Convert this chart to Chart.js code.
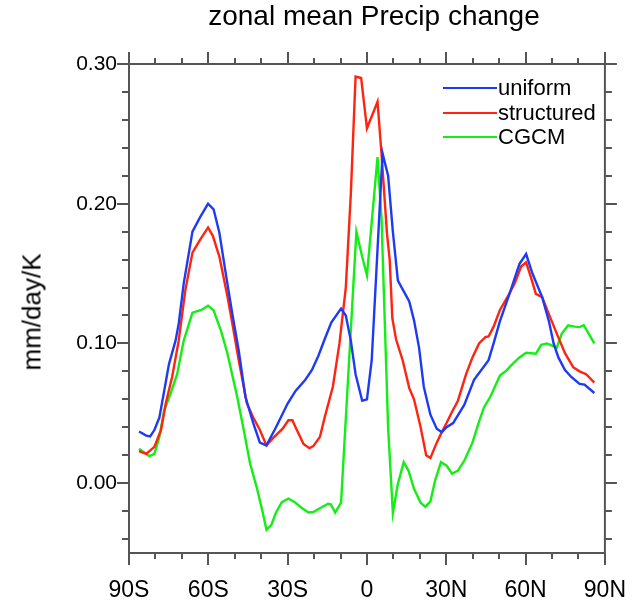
<!DOCTYPE html>
<html>
<head>
<meta charset="utf-8">
<script src="https://cdn.jsdelivr.net/npm/chart.js@4.4.1/dist/chart.umd.min.js"></script>
<style>
    html, body { margin: 0; padding: 0; background: #fff; }
    #wrap { position: relative; width: 642px; height: 608px; font-family: 'Liberation Sans', Arial, sans-serif; color: #000; }
    #plot { position: absolute; left: 0; top: 0; }
    #title { position: absolute; left: 0; width: 748px; top: 0px; text-align: center; font-size: 28px; white-space: nowrap; }
    #ylab { position: absolute; left: 32px; top: 312px; font-size: 26px; white-space: nowrap; transform: translate(-50%, -50%) rotate(-90deg); }
    #legend { position: absolute; left: 443px; top: 76px; font-size: 22px; }
    #legend .row { display: flex; align-items: center; height: 24.5px; }
    #legend .ln { width: 54px; height: 2px; margin-right: 1px; }
</style>
</head>
<body>
<div id="wrap">
    <canvas id="plot" width="642" height="608"></canvas>
    <div id="title">zonal mean Precip change</div>
    <div id="ylab">mm/day/K</div>
    <div id="legend"></div>
</div>
<script>
/* zonal mean Precip change */
(function () {
    'use strict';

    // --- data (latitude in degrees, value in mm/day/K) ---
    const uniformLat = [-86.2, -83.5, -82, -80.4, -78.5, -76.7, -74.9, -72.4, -71.2, -69.3, -66, -63.2, -60.1, -58, -55.8, -53.4, -50.9, -48.5, -46, -43, -40.5, -38, -34.4, -30, -27, -23.3, -20.8, -18.4, -16, -13.5, -9.8, -8, -6.1, -4.3, -1.8, 0, 1.8, 5.9, 8, 9.8, 11.7, 16, 17.8, 19.7, 21.5, 24, 26.4, 28.3, 30.1, 32.6, 36.8, 40.5, 46, 47.9, 50.3, 54, 57.7, 60.2, 62.6, 66.3, 68.8, 70.6, 72.4, 74.9, 77.3, 80.4, 82.3, 86];
    const uniformVal = [0.037, 0.034, 0.0335, 0.038, 0.047, 0.066, 0.085, 0.102, 0.114, 0.143, 0.180, 0.190, 0.200, 0.196, 0.179, 0.150, 0.121, 0.095, 0.062, 0.043, 0.029, 0.027, 0.040, 0.057, 0.066, 0.074, 0.081, 0.091, 0.103, 0.115, 0.125, 0.120, 0.102, 0.078, 0.059, 0.060, 0.088, 0.236, 0.220, 0.180, 0.145, 0.130, 0.1165, 0.097, 0.069, 0.049, 0.039, 0.0365, 0.040, 0.043, 0.056, 0.074, 0.088, 0.100, 0.116, 0.136, 0.157, 0.164, 0.150, 0.133, 0.116, 0.100, 0.090, 0.081, 0.076, 0.071, 0.0705, 0.0645];

    const structuredLat = [-86.2, -83.5, -80.4, -77.9, -76.1, -73.7, -71.2, -68.7, -66, -63.2, -60.1, -58.3, -55.8, -52.7, -50.9, -48.5, -45.4, -43, -40.5, -38, -35.6, -31.9, -29.7, -28.2, -27, -24, -21.8, -20.3, -17.8, -16, -12.9, -10.4, -8, -6.1, -4.3, -2.2, 0, 4, 5.5, 7.6, 8.6, 9.6, 11, 13.5, 16, 17.8, 20.3, 22.4, 24, 26.4, 28.3, 30.1, 31.9, 34.4, 37.5, 39.9, 42.4, 44.8, 46, 47.9, 50.3, 53.4, 55.9, 58.3, 60.2, 62, 63.9, 66.3, 68.8, 71.8, 74.9, 78, 80.4, 82.9, 86];
    const structuredVal = [0.023, 0.021, 0.026, 0.038, 0.057, 0.076, 0.102, 0.138, 0.165, 0.174, 0.183, 0.177, 0.162, 0.133, 0.114, 0.088, 0.057, 0.047, 0.038, 0.027, 0.032, 0.039, 0.045, 0.045, 0.040, 0.028, 0.025, 0.0265, 0.033, 0.047, 0.069, 0.100, 0.140, 0.207, 0.291, 0.290, 0.254, 0.273, 0.236, 0.178, 0.160, 0.118, 0.103, 0.088, 0.068, 0.060, 0.040, 0.020, 0.018, 0.029, 0.0365, 0.043, 0.050, 0.059, 0.078, 0.090, 0.100, 0.1045, 0.105, 0.112, 0.124, 0.134, 0.143, 0.155, 0.158, 0.1475, 0.1355, 0.133, 0.121, 0.107, 0.093, 0.083, 0.080, 0.078, 0.072];

    const cgcmLat = [-86.2, -82.3, -80.4, -78.5, -76.7, -74.3, -71.8, -69.3, -66, -62.6, -60.1, -58, -55.2, -52.8, -49.1, -46.6, -44.2, -41.7, -39.6, -38, -36.2, -34.4, -32.2, -29.7, -27.3, -24.5, -22.1, -20.3, -17.8, -14.7, -13.7, -12, -9.8, -4, -1.8, 0, 4, 5.5, 8, 9.8, 11.7, 13.9, 15.7, 17.8, 20.3, 22.1, 24, 25.8, 28, 30.1, 32.2, 34.4, 36.8, 39.9, 42.4, 44.2, 46.7, 50.3, 52.8, 55.2, 57.7, 60.2, 63.9, 65.9, 68.1, 71.8, 73.7, 76.1, 78.6, 80.4, 82, 86];
    const cgcmVal = [0.0246, 0.0193, 0.021, 0.033, 0.052, 0.064, 0.078, 0.102, 0.122, 0.124, 0.127, 0.1236, 0.109, 0.093, 0.062, 0.038, 0.014, -0.003, -0.0195, -0.0334, -0.030, -0.021, -0.0136, -0.011, -0.0136, -0.018, -0.021, -0.0207, -0.018, -0.0148, -0.0152, -0.021, -0.014, 0.180, 0.162, 0.1487, 0.2334, 0.190, 0.040, -0.0215, -0.0005, 0.015, 0.009, -0.004, -0.014, -0.017, -0.013, 0.002, 0.015, 0.0125, 0.0067, 0.009, 0.016, 0.029, 0.044, 0.054, 0.062, 0.077, 0.0807, 0.0855, 0.090, 0.0933, 0.0926, 0.099, 0.100, 0.097, 0.107, 0.113, 0.112, 0.1117, 0.113, 0.100];

    // --- axes ---
    const xTickValues = [-90, -60, -30, 0, 30, 60, 90];
    const xTickLabels = ['90S', '60S', '30S', '0', '30N', '60N', '90N'];
    const xMinorValues = [-80, -70, -50, -40, -20, -10, 10, 20, 40, 50, 70, 80];
    const yTickValues = [0, 0.1, 0.2, 0.3];
    const yTickLabels = ['0.00', '0.10', '0.20', '0.30'];
    const yMinorValues = [-0.04, -0.02, 0.02, 0.04, 0.06, 0.08, 0.12, 0.14, 0.16, 0.18, 0.22, 0.24, 0.26, 0.28];

    const series = [
        { label: 'uniform', lat: uniformLat, val: uniformVal, color: '#1f3af5' },
        { label: 'structured', lat: structuredLat, val: structuredVal, color: '#ff2410' },
        { label: 'CGCM', lat: cgcmLat, val: cgcmVal, color: '#14ee14' },
    ];

    const FONT = "'Liberation Sans', Arial, sans-serif";
    const FRAME = '#555';

    // NCL-style frame: box + outward major/minor ticks on all four sides
    const framePlugin = {
        id: 'frame',
        afterDraw(chart) {
            const { ctx, chartArea: a, scales } = chart;
            const xs = scales.x, ys = scales.y;
            ctx.save();
            ctx.strokeStyle = FRAME;
            ctx.lineWidth = 2;
            ctx.strokeRect(a.left, a.top, a.right - a.left, a.bottom - a.top);
            ctx.beginPath();
            const xTick = (v, len) => {
                const px = Math.round(xs.getPixelForValue(v));
                ctx.moveTo(px, a.bottom); ctx.lineTo(px, a.bottom + len);
                ctx.moveTo(px, a.top); ctx.lineTo(px, a.top - len);
            };
            const yTick = (v, len) => {
                const py = Math.round(ys.getPixelForValue(v));
                ctx.moveTo(a.left, py); ctx.lineTo(a.left - len, py);
                ctx.moveTo(a.right, py); ctx.lineTo(a.right + len, py);
            };
            xTickValues.forEach((v) => xTick(v, 12));
            xMinorValues.forEach((v) => xTick(v, 6));
            yTickValues.forEach((v) => yTick(v, 12));
            yMinorValues.forEach((v) => yTick(v, 7));
            ctx.stroke();
            ctx.restore();
        },
    };

    function points(lat, val) {
        return lat.map((x, i) => ({ x, y: val[i] }));
    }

    function buildLegend() {
        const box = document.getElementById('legend');
        box.innerHTML = series.map((s) => `
            <div class="row"><span class="ln" style="background:${s.color}"></span><span>${s.label}</span></div>`).join('');
    }

    const ctx = document.getElementById('plot');
    new Chart(ctx, {
        type: 'line',
        data: {
            datasets: series.map((s) => ({
                label: s.label,
                data: points(s.lat, s.val),
                borderColor: s.color,
                borderWidth: 2.4,
                pointRadius: 0,
                tension: 0,
                fill: false,
            })),
        },
        options: {
            responsive: false,
            animation: false,
            devicePixelRatio: 1,
            layout: { padding: { left: 0, top: 64, right: 24, bottom: 0 } },
            plugins: { legend: { display: false }, title: { display: false }, tooltip: { enabled: false } },
            scales: {
                x: {
                    type: 'linear',
                    min: -90,
                    max: 90,
                    afterBuildTicks: (s) => { s.ticks = xTickValues.map((v) => ({ value: v })); },
                    afterFit: (s) => { s.height = 55; },
                    ticks: {
                        autoSkip: false,
                        maxRotation: 0,
                        padding: 16,
                        color: '#000',
                        font: { family: FONT, size: 23 },
                        callback: (v) => xTickLabels[xTickValues.indexOf(v)],
                    },
                    grid: { display: false },
                    border: { display: false },
                },
                y: {
                    type: 'linear',
                    min: -0.05,
                    max: 0.30,
                    afterBuildTicks: (s) => { s.ticks = yTickValues.map((v) => ({ value: v })); },
                    afterFit: (s) => { s.width = 129; },
                    ticks: {
                        padding: 4,
                        color: '#000',
                        font: { family: FONT, size: 21 },
                        callback: (v) => yTickLabels[yTickValues.indexOf(v)],
                    },
                    grid: { display: false },
                    border: { display: false },
                },
            },
        },
        plugins: [framePlugin],
    });

    buildLegend();
})();
</script>
</body>
</html>
